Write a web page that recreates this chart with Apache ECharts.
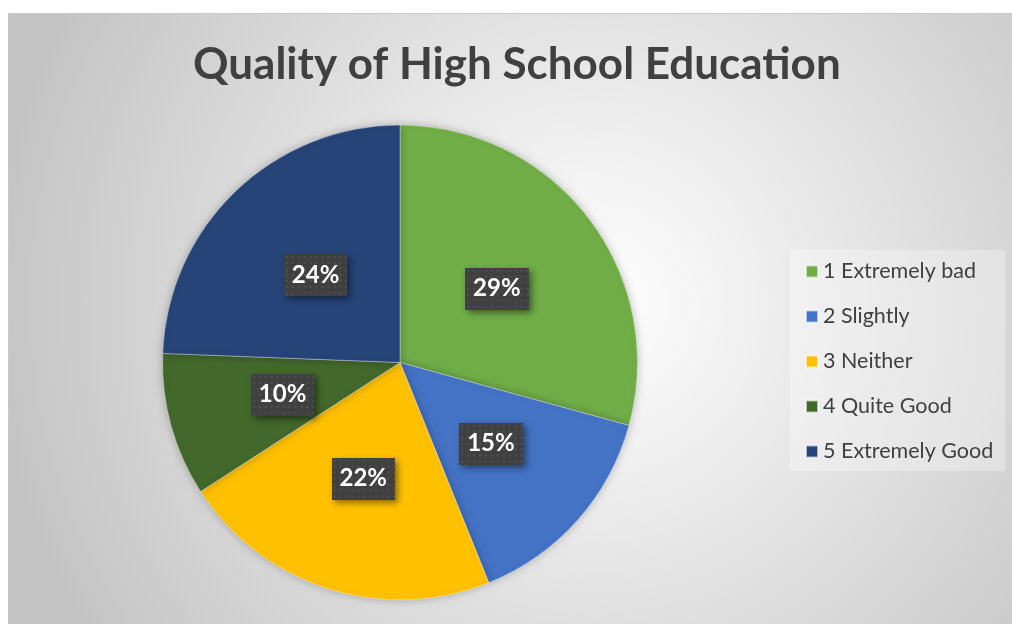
<!DOCTYPE html>
<html>
<head>
<meta charset="utf-8">
<script src="https://cdn.jsdelivr.net/npm/echarts@6/dist/echarts.min.js"></script>
<style>
  html, body { margin: 0; padding: 0; background: #ffffff; }
  #chart { width: 1012px; height: 624px; }
</style>
</head>
<body>
<div id="chart"></div>
<script>
const titleText = 'Quality of High School Education';
const categories = ['1 Extremely bad', '2 Slightly', '3 Neither', '4 Quite Good', '5 Extremely Good'];
const counts = [12, 6, 9, 4, 10];
const colors = ['#70AD47', '#4472C4', '#FFC000', '#43682B', '#264478'];

// dotted dark texture for the data-label boxes
const tex = document.createElement('canvas');
tex.width = 64; tex.height = 42;
(function () {
  const g = tex.getContext('2d');
  g.fillStyle = '#404040';
  g.fillRect(0, 0, tex.width, tex.height);
  g.fillStyle = '#515151';
  for (let y = 2; y < tex.height; y += 6) {
    for (let x = 2; x < tex.width; x += 6) {
      g.fillRect(x, y, 2, 2);
    }
  }
})();

const chart = echarts.init(document.getElementById('chart'), null, { renderer: 'canvas' });
const FONT = 'Lato, "Open Sans", sans-serif';

chart.setOption({
  animation: false,
  graphic: [{
    type: 'rect',
    z: -10,
    silent: true,
    shape: { x: 8.5, y: 13.5, width: 1010, height: 616 },
    style: {
      fill: {
        type: 'radial', x: 0.58, y: 0.47, r: 0.98,
        colorStops: [
          { offset: 0, color: '#ffffff' },
          { offset: 1, color: '#c4c4c4' }
        ]
      },
      stroke: '#c8c8c8',
      lineWidth: 1
    }
  }],
  title: {
    text: titleText,
    left: 188,
    top: 38,
    textStyle: { fontFamily: FONT, fontWeight: 'bold', fontSize: 44, color: '#404040' }
  },
  legend: {
    orient: 'vertical',
    left: 790,
    top: 250,
    padding: [10, 12, 8, 15],
    backgroundColor: 'rgba(255,255,255,0.3)',
    itemWidth: 12,
    itemHeight: 12,
    itemGap: 22,
    icon: 'rect',
    data: categories,
    textStyle: { fontFamily: FONT, fontSize: 21.5, color: '#404040', lineHeight: 23 }
  },
  series: [{
    type: 'pie',
    center: [400, 362.5],
    radius: [0, 237.5],
    startAngle: 90,
    clockwise: true,
    percentPrecision: 0,
    color: colors,
    itemStyle: {
      borderColor: 'rgba(255,255,255,0.6)',
      borderWidth: 0.6,
      shadowBlur: 8,
      shadowColor: 'rgba(0,0,0,0.25)'
    },
    label: {
      show: true,
      position: 'inside',
      formatter: '{d}%',
      fontFamily: FONT,
      fontWeight: 'bold',
      fontSize: 24,
      color: '#ffffff',
      backgroundColor: { image: tex },
      padding: [9, 8, 9, 8],
      shadowBlur: 6,
      shadowOffsetX: 3,
      shadowOffsetY: 3,
      shadowColor: 'rgba(0,0,0,0.45)'
    },
    labelLine: { show: false },
    emphasis: { disabled: true },
    data: categories.map((name, i) => ({ name: name, value: counts[i] }))
  }]
});
</script>
</body>
</html>
